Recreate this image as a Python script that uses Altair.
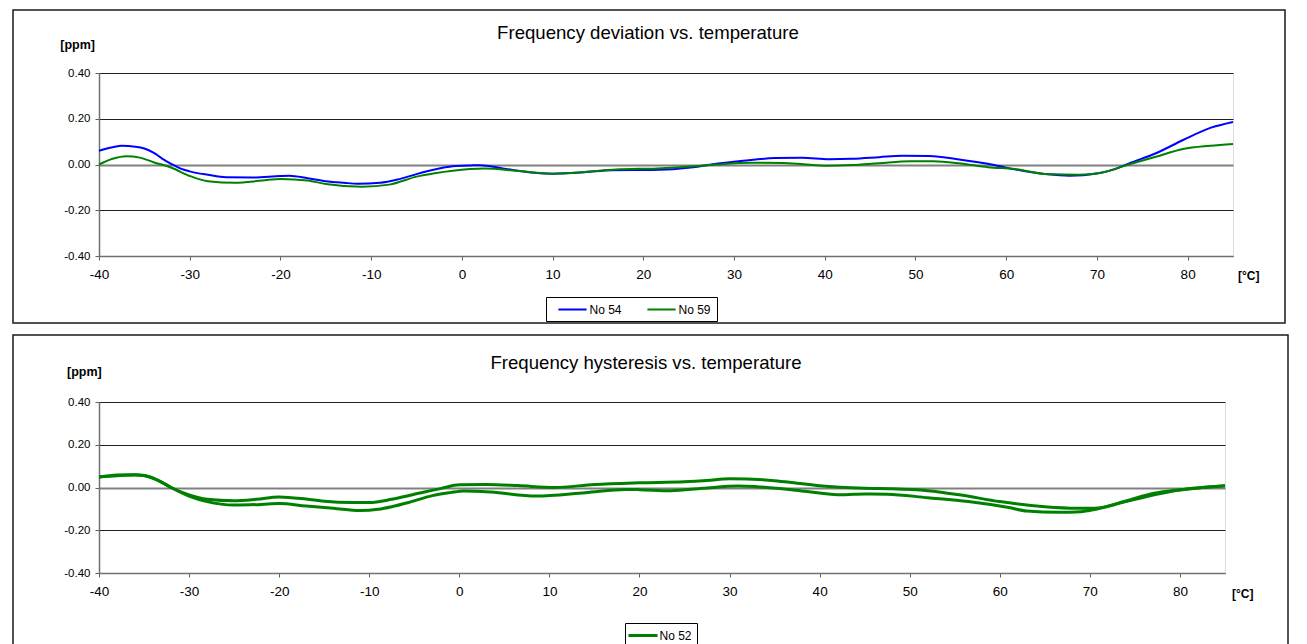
import altair as alt
import pandas as pd

FONT = "Liberation Sans"

# ---------------- data: top chart (frequency deviation) ----------------
T54 = [-40, -38.5, -37.5, -36, -35, -34, -33, -32, -31, -30, -28, -26, -23, -20, -19, -17, -15, -13,
       -11.5, -9, -7, -5, -3, -1, 1, 2, 4.5, 8, 10, 13.5, 16.5, 21, 25.5, 27.5, 31, 34.5, 37.5, 40.5,
       43, 46, 48.5, 51.5, 55, 58, 60.5, 64.5, 67, 70, 72, 73.5, 76.5, 79.5, 82.5, 85]
V54 = [0.060, 0.075, 0.082, 0.078, 0.070, 0.052, 0.025, 0.002, -0.018, -0.030, -0.045, -0.056, -0.057,
       -0.050, -0.049, -0.060, -0.073, -0.080, -0.084, -0.080, -0.065, -0.042, -0.022, -0.008, -0.004,
       -0.003, -0.017, -0.036, -0.040, -0.034, -0.025, -0.024, -0.012, 0.000, 0.016, 0.028, 0.029, 0.023,
       0.025, 0.032, 0.038, 0.037, 0.021, 0.003, -0.018, -0.043, -0.049, -0.039, -0.020, 0.004, 0.049,
       0.107, 0.160, 0.186]

T59 = [-40, -38.5, -37, -35.5, -34, -32, -30, -28, -25, -22, -20, -17, -15, -11, -8, -5, -3, -1, 2.5, 6,
       10, 13.5, 17, 21.5, 25.5, 28, 32, 35.5, 40, 43, 46, 49.5, 52, 55, 58, 61, 64.5, 68, 70.5, 73.5,
       76.5, 79.5, 82.5, 85]
V59 = [0.000, 0.025, 0.036, 0.030, 0.010, -0.014, -0.050, -0.073, -0.080, -0.070, -0.063, -0.070, -0.085,
       -0.097, -0.088, -0.053, -0.038, -0.027, -0.018, -0.027, -0.040, -0.033, -0.022, -0.017, -0.008,
       0.000, 0.008, 0.007, -0.005, -0.002, 0.006, 0.014, 0.014, 0.004, -0.012, -0.020, -0.042, -0.045,
       -0.036, 0.000, 0.034, 0.068, 0.082, 0.090]

# ---------------- data: bottom chart (frequency hysteresis, No 52 loop) ----------------
T52_UP = [-40, -38, -36, -35, -33.5, -32, -30, -28, -25, -22.5, -20, -17, -15, -12, -10, -7.5, -5, -2, 0,
          3, 6.5, 10.5, 15, 20, 25, 27.5, 30, 35, 37.5, 40, 45, 48, 52, 55.5, 60, 65, 68.5, 70.5, 74, 77,
          80, 83, 85]
V52_UP = [0.050, 0.055, 0.058, 0.056, 0.035, 0.000, -0.035, -0.055, -0.062, -0.055, -0.044, -0.054, -0.064,
          -0.070, -0.070, -0.055, -0.032, -0.004, 0.013, 0.014, 0.009, 0.000, 0.014, 0.022, 0.027, 0.033,
          0.041, 0.032, 0.020, 0.008, -0.004, -0.006, -0.015, -0.034, -0.066, -0.090, -0.097, -0.097,
          -0.063, -0.028, -0.010, 0.001, 0.009]

T52_DOWN = [85, 83, 80, 78, 74, 70.5, 69, 66.5, 63, 61, 56.5, 52, 47.5, 45, 42.5, 38, 33, 31, 27, 23.5,
            20, 18.5, 14, 8.5, 3.5, 0.5, -1, -3, -5.7, -7.5, -9, -11, -14, -17, -20, -22, -25, -28, -30,
            -32, -33.5, -35, -36, -38, -40]
V52_DOWN = [0.007, 0.002, -0.012, -0.027, -0.066, -0.103, -0.113, -0.116, -0.110, -0.094, -0.066, -0.048,
            -0.031, -0.030, -0.034, -0.016, 0.004, 0.007, -0.004, -0.015, -0.010, -0.009, -0.024, -0.040,
            -0.021, -0.016, -0.024, -0.038, -0.071, -0.090, -0.102, -0.108, -0.097, -0.087, -0.075, -0.079,
            -0.082, -0.066, -0.040, 0.000, 0.035, 0.056, 0.060, 0.058, 0.048]

SERIES_TOP = ["No 54", "No 59"]
COLORS_TOP = ["#0000FF", "#008000"]
SERIES_BOT = ["No 52"]
COLORS_BOT = ["#008000"]

X_TICKS = [-40, -30, -20, -10, 0, 10, 20, 30, 40, 50, 60, 70, 80]
Y_TICKS = [-0.4, -0.2, 0.0, 0.2, 0.4]

TITLE_TOP = "Frequency deviation vs. temperature"
TITLE_BOT = "Frequency hysteresis vs. temperature"
Y_UNIT = "[ppm]"
X_UNIT = "[°C]"

top_df = pd.concat([
    pd.DataFrame({"t": T54, "v": V54, "s": SERIES_TOP[0]}),
    pd.DataFrame({"t": T59, "v": V59, "s": SERIES_TOP[1]}),
], ignore_index=True)

bot_df = pd.concat([
    pd.DataFrame({"t": T52_UP, "v": V52_UP, "s": SERIES_BOT[0], "b": "up"}),
    pd.DataFrame({"t": T52_DOWN, "v": V52_DOWN, "s": SERIES_BOT[0], "b": "down"}),
], ignore_index=True)

MINUS_FIX = "replace(datum.label, '\u2212', '-')"
ZERO_TEST = "abs(datum.value) < 0.01"


def x_enc():
    return alt.X(
        "t:Q",
        scale=alt.Scale(domain=[-40, 85], nice=False, zero=False),
        axis=alt.Axis(values=X_TICKS, format="d", labelExpr=MINUS_FIX, grid=False, title=None,
                      tickSize=4, tickColor="#606060", domainColor="#707070", domainWidth=1.5,
                      labelFontSize=13.5, labelPadding=7, labelColor="#000", labelFont=FONT,
                      labelFlush=False),
    )


def y_enc():
    return alt.Y(
        "v:Q",
        scale=alt.Scale(domain=[-0.4, 0.4], nice=False, zero=False),
        axis=alt.Axis(values=Y_TICKS, format=".2f", labelExpr=MINUS_FIX, grid=True, title=None,
                      gridColor={"condition": {"test": ZERO_TEST, "value": "#808080"}, "value": "#202020"},
                      gridWidth={"condition": {"test": ZERO_TEST, "value": 2}, "value": 1},
                      tickSize=4, tickColor="#606060", domainColor="#707070", domainWidth=1.5,
                      labelFontSize=11.5, labelPadding=5, labelColor="#000", labelFont=FONT),
    )


def text_layer(txt, x, y, size, weight="normal", align="center", baseline="middle"):
    return alt.Chart(pd.DataFrame({"txt": [txt]})).mark_text(
        font=FONT, fontSize=size, fontWeight=weight, align=align, baseline=baseline, color="#000"
    ).encode(text="txt:N", x=alt.value(x), y=alt.value(y))


def frame_layer(x1, x2, y1, y2):
    return alt.Chart(pd.DataFrame({"k": [0]})).mark_rect(
        fillOpacity=0, stroke="#1a1a1a", strokeWidth=1.5
    ).encode(x=alt.value(x1), x2=alt.value(x2), y=alt.value(y1), y2=alt.value(y2))


# ---------------- top panel ----------------
top_lines = alt.Chart(top_df).mark_line(interpolate="monotone", strokeWidth=2).encode(
    x=x_enc(),
    y=y_enc(),
    color=alt.Color(
        "s:N",
        scale=alt.Scale(domain=SERIES_TOP, range=COLORS_TOP),
        legend=alt.Legend(title=None, orient="none", legendX=447, legendY=224, direction="horizontal",
                          symbolType="M-2.35,0L2.35,0", symbolSize=144, symbolStrokeWidth=2,
                          symbolOffset=14, labelOffset=10, columnPadding=18,
                          labelFontSize=12, labelFont=FONT, labelColor="#000",
                          padding=5.5, strokeColor="#000", fillColor="#ffffff", cornerRadius=0),
    ),
)

top = alt.layer(
    frame_layer(-86, 1186, -63, 250),
    top_lines,
    text_layer(TITLE_TOP, 549, -33.7, 18.6, baseline="alphabetic"),
    text_layer(Y_UNIT, -4, -28, 12.5, weight="bold", align="right"),
    text_layer(X_UNIT, 1139, 203, 12, weight="bold", align="left"),
).properties(width=1134, height=183)

# ---------------- bottom panel ----------------
bot_lines = alt.Chart(bot_df).mark_line(interpolate="monotone", strokeWidth=3).encode(
    x=x_enc(),
    y=y_enc(),
    detail="b:N",
    color=alt.Color(
        "s:N",
        scale=alt.Scale(domain=SERIES_BOT, range=COLORS_BOT),
        legend=alt.Legend(title=None, orient="none", legendX=526, legendY=221, direction="horizontal",
                          symbolType="M-2.42,0L2.42,0", symbolSize=144, symbolStrokeWidth=3,
                          symbolOffset=5.5, labelOffset=9,
                          labelFontSize=12, labelFont=FONT, labelColor="#000",
                          padding=5, strokeColor="#000", fillColor="#ffffff", cornerRadius=0),
    ),
)

bottom = alt.layer(
    frame_layer(-86, 1189, -67, 262),
    bot_lines,
    text_layer(TITLE_BOT, 547, -32.7, 18.6, baseline="alphabetic"),
    text_layer(Y_UNIT, 2.7, -29.7, 12.5, weight="bold", align="right"),
    text_layer(X_UNIT, 1133, 192.3, 12, weight="bold", align="left"),
).properties(width=1126, height=171)

chart = alt.vconcat(top, bottom, spacing=8).resolve_scale(
    color="independent"
).properties(
    padding={"left": 3, "top": 0, "right": 0, "bottom": 0}
).configure_view(strokeWidth=0).configure(font=FONT)

chart.save("out.html", embed_options={"renderer": "svg", "actions": False})
